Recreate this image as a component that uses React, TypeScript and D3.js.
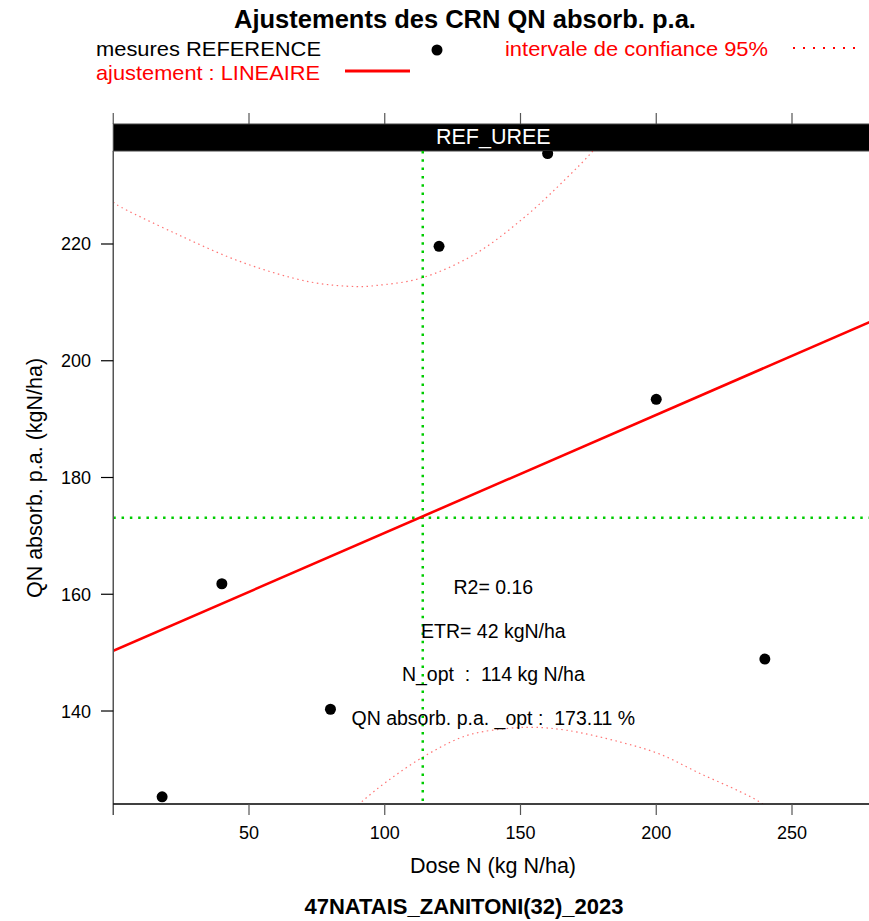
import React from "react";
import * as d3 from "d3";

const doses = [18, 40, 80, 120, 160, 200, 240];
const qnValues = [125.3, 161.8, 140.3, 219.6, 235.5, 193.4, 148.9];

const fitX = [0, 280];
const fitY = [150.3, 206.9];

const upperX = [0, 1.4, 23.4, 47.9, 72.5, 89.7, 97.0, 113.0, 132.6, 151.0, 167.0, 176.2, 182];
const upperY = [227.2, 226.7, 221.7, 216.8, 213.5, 212.7, 212.9, 214.1, 218.1, 224.4, 231.3, 235.7, 239];
const lowerX = [85, 90.9, 100.7, 115.5, 130.2, 144.9, 155.0, 167.0, 186.6, 201.4, 216.1, 230.8, 238.8, 245];
const lowerY = [121.5, 124.2, 127.9, 132.5, 135.8, 137.0, 137.2, 136.7, 134.7, 132.6, 129.3, 126.2, 124.2, 121.5];

const nOpt = 114;
const qnOpt = 173.11;

const xTicks = [50, 100, 150, 200, 250];
const yTicks = [140, 160, 180, 200, 220];

const annotations = [
  "R2= 0.16",
  "ETR= 42 kgN/ha",
  "N_opt  :  114 kg N/ha",
  "QN absorb. p.a. _opt :  173.11 %",
];

const FONT = "'Liberation Sans', Arial, sans-serif";

export default function App() {
  const left = 113.25;
  const right = 873.45;
  const top = 151;
  const bottom = 804;
  const stripTop = 124;

  const x = d3.scaleLinear().domain([0, 280]).range([left, right]);
  const y = d3.scaleLinear().domain([124.07, 235.93]).range([bottom, top]);

  const curve = d3
    .line<[number, number]>()
    .x((d) => x(d[0]))
    .y((d) => y(d[1]))
    .curve(d3.curveCatmullRom);

  const upper = curve(upperX.map((v, i) => [v, upperY[i]] as [number, number])) || "";
  const lower = curve(lowerX.map((v, i) => [v, lowerY[i]] as [number, number])) || "";
  const fit = d3
    .line<[number, number]>()
    .x((d) => x(d[0]))
    .y((d) => y(d[1]))(fitX.map((v, i) => [v, fitY[i]] as [number, number])) || "";

  const cx = (left + right) / 2;

  return (
    <svg
      width={869}
      height={921}
      style={{ position: "absolute", left: 0, top: 0, background: "#fff" }}
      fontFamily={FONT}
    >
      <defs>
        <clipPath id="panel">
          <rect x={left} y={top} width={right - left} height={bottom - top} />
        </clipPath>
      </defs>
      <rect width={869} height={921} fill="#fff" />

      {/* Title */}
      <text x={465} y={28} textAnchor="middle" fontSize={25.5} fontWeight="bold">
        Ajustements des CRN QN absorb. p.a.
      </text>

      {/* Legend */}
      <text x={96} y={56} fontSize={21} textLength={225} lengthAdjust="spacingAndGlyphs">mesures REFERENCE</text>
      <circle cx={437} cy={50} r={5.5} fill="#000" />
      <text x={505} y={56} fontSize={21} fill="#ff0000" textLength={263} lengthAdjust="spacingAndGlyphs">intervale de confiance 95%</text>
      <line x1={793} x2={858} y1={48} y2={48} stroke="#ff0000" strokeWidth={2} strokeDasharray="2,8" />
      <text x={96} y={80} fontSize={21} fill="#ff0000" textLength={224} lengthAdjust="spacingAndGlyphs">ajustement : LINEAIRE</text>
      <line x1={345} x2={410} y1={71} y2={71} stroke="#ff0000" strokeWidth={3} />

      {/* Top ticks */}
      {xTicks.map((t) => (
        <line key={"tt" + t} x1={x(t)} x2={x(t)} y1={113} y2={stripTop} stroke="#555" strokeWidth={1.2} />
      ))}
      <line x1={left} x2={left} y1={113} y2={stripTop} stroke="#555" strokeWidth={1.2} />

      {/* Strip */}
      <rect x={left} y={stripTop} width={right - left} height={top - stripTop} fill="#000" stroke="#444" strokeWidth={1} />
      <text x={cx} y={144} textAnchor="middle" fontSize={21.5} fill="#fff">REF_UREE</text>

      {/* Panel content */}
      <g clipPath="url(#panel)">
        <path d={upper} fill="none" stroke="#ff0000" strokeOpacity={0.55} strokeWidth={1.2} strokeDasharray="1.5,3.5" />
        <path d={lower} fill="none" stroke="#ff0000" strokeOpacity={0.55} strokeWidth={1.2} strokeDasharray="1.5,3.5" />
        <line x1={x(nOpt)} x2={x(nOpt)} y1={top} y2={bottom} stroke="#00cc00" strokeWidth={2.5} strokeDasharray="2.5,5.8" />
        <line x1={left} x2={right} y1={y(qnOpt)} y2={y(qnOpt)} stroke="#00cc00" strokeWidth={2.5} strokeDasharray="2.5,5.8" />
        <path d={fit} fill="none" stroke="#ff0000" strokeWidth={2.6} />
        {doses.map((d, i) => (
          <circle key={"p" + i} cx={x(d)} cy={y(qnValues[i])} r={5.5} fill="#000" />
        ))}
      </g>

      {/* Annotations */}
      {annotations.map((a, i) => (
        <text
          key={"a" + i}
          x={cx}
          y={594 + i * 43.7}
          textAnchor="middle"
          fontSize={19.5}
          style={{ whiteSpace: "pre" }}
        >
          {a}
        </text>
      ))}

      {/* Axes frame */}
      <line x1={left} x2={left} y1={top} y2={bottom + 11} stroke="#555" strokeWidth={1.5} />
      <line x1={left} x2={right} y1={bottom} y2={bottom} stroke="#000" strokeWidth={1.5} />

      {/* Bottom ticks */}
      {xTicks.map((t) => (
        <g key={"bt" + t}>
          <line x1={x(t)} x2={x(t)} y1={bottom} y2={bottom + 11} stroke="#555" strokeWidth={1.2} />
          <text x={x(t)} y={839} textAnchor="middle" fontSize={18}>{t}</text>
        </g>
      ))}

      {/* Left ticks */}
      {yTicks.map((t) => (
        <g key={"lt" + t}>
          <line x1={101} x2={left} y1={y(t)} y2={y(t)} stroke="#000" strokeWidth={1.2} />
          <text x={91} y={y(t) + 6.5} textAnchor="end" fontSize={18}>{t}</text>
        </g>
      ))}

      {/* Axis labels */}
      <text x={493} y={873} textAnchor="middle" fontSize={21.5}>Dose N (kg N/ha)</text>
      <text transform={`translate(42,478) rotate(-90)`} textAnchor="middle" fontSize={21.5}>
        QN absorb. p.a. (kgN/ha)
      </text>

      {/* Site label */}
      <text x={464} y={914} textAnchor="middle" fontSize={22} fontWeight="bold">
        47NATAIS_ZANITONI(32)_2023
      </text>
    </svg>
  );
}
